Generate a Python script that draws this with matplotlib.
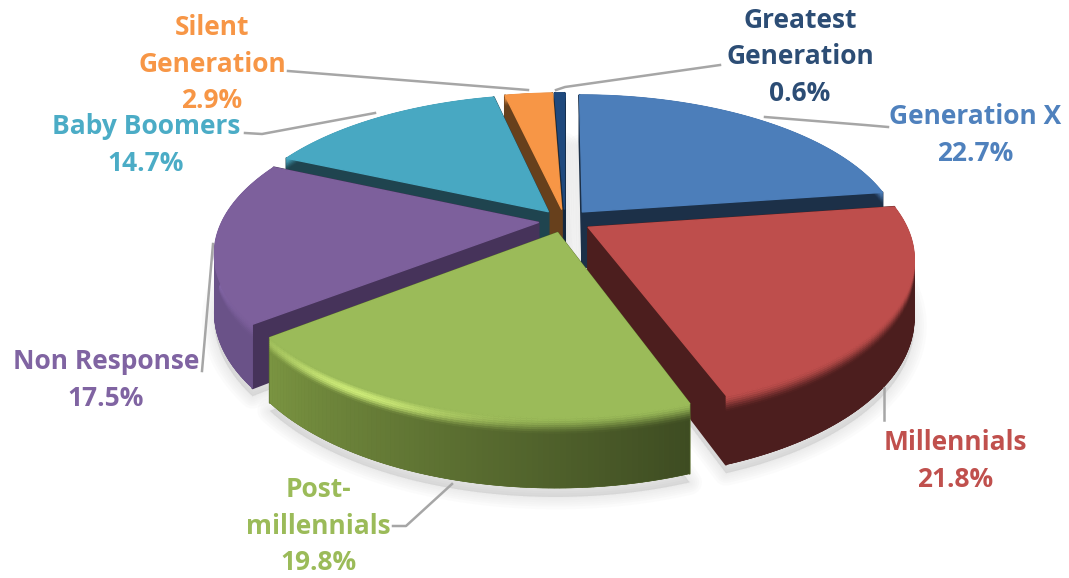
#!/usr/bin/python
# Exploded 3D style pie chart of generations, drawn from plain polygons
import numpy as np
import matplotlib
matplotlib.use('Agg')
import matplotlib.pyplot as plt
from matplotlib.collections import PolyCollection
from matplotlib.colors import to_rgb

names = ['Generation X', 'Millennials', 'Post-\nmillennials', 'Non Response',
         'Baby Boomers', 'Silent\nGeneration', 'Greatest\nGeneration']
shares = [22.7, 21.8, 19.8, 17.5, 14.7, 2.9, 0.6]

#================= colours ==================
top_colors = ['#4C7EBA', '#BE4E4C', '#9BBB59', '#7D609C', '#48A8C2', '#F79646', '#1F497D']
text_colors = ['#4F81BD', '#C0504D', '#9BBB59', '#8064A2', '#4BACC6', '#F79646', '#2C4D75']
face_colors = ['#1C3048', '#4C1E1E', '#5A6E2E', '#46335A', '#1F444F', '#67401C', '#14283F']
wall_left = ['#1C3048', '#4C1E1E', '#7A9441', '#6A5288', '#1F444F', '#67401C', '#14283F']
wall_right = ['#1C3048', '#4C1E1E', '#3E4C22', '#6A5288', '#1F444F', '#67401C', '#14283F']
rim_colors = [None, None, '#CDEB78', '#8E70B8', None, None, None]
rim_peak = [0.5, 0.5, 0.72, 0.5, 0.5, 0.5, 0.5]
draw_order = [6, 5, 0, 4, 3, 1, 2]

#================= layout ==================
cx, cy = 565.0, 221.0
rx, ry = 316.0, 143.0
persp = 0.195
explode = 0.085
depth = 56.0
bevel = 0.24

label_xy = [(975, 135), (955, 461), (318, 526), (106, 380), (146, 145), (212, 64), (800, 57)]
leaders = [[(888, 127), (865, 125), (765, 117)],
           [(884, 420), (884, 388)],
           [(393, 526), (406, 526), (452, 484)],
           [(202, 371), (213, 244)],
           [(245, 133), (262, 134), (375, 113)],
           [(288, 71), (528, 90)],
           [(720, 65), (565, 87), (556, 90)]]


def project(u, v, h=0.0):
    s = 1.0 / (1.0 + persp * v)
    return cx + rx * u * s, cy - ry * v * s + h * s


def blend(a, b, t):
    return tuple(np.array(a) * (1 - t) + np.array(b) * t)


fig = plt.figure(figsize=(10.69, 5.78), dpi=100)
ax = fig.add_axes([0, 0, 1, 1])
ax.set_xlim(0, 1069)
ax.set_ylim(578, 0)
ax.axis('off')

# slice angles, clockwise from twelve o'clock
edges = np.cumsum([0.0] + shares) / sum(shares) * 2 * np.pi
slices = []
for i in range(len(shares)):
    mid = 0.5 * (edges[i] + edges[i + 1])
    u0 = explode * np.sin(mid)
    v0 = explode * np.cos(mid)
    theta = np.linspace(edges[i], edges[i + 1], 90)
    slices.append((u0, v0, u0 + np.sin(theta), v0 + np.cos(theta)))

#====================== shadow ======================
for i in draw_order:
    u0, v0, u, v = slices[i]
    xs, ys = project(np.r_[u0, u], np.r_[v0, v], depth + 7)
    for lw in [2, 5, 8, 11, 14, 18]:
        ax.fill(xs, ys, facecolor=(0.6, 0.6, 0.6, 0.04), edgecolor=(0.6, 0.6, 0.6, 0.03),
                linewidth=lw, joinstyle='round', zorder=1)

#====================== slices ======================
z = 2
for i in draw_order:
    u0, v0, u, v = slices[i]
    top = to_rgb(top_colors[i])
    face = to_rgb(face_colors[i])

    # two flat side faces running to the apex
    for k in [0, -1]:
        ax.fill(*zip(project(u0, v0), project(u[k], v[k]), project(u[k], v[k], depth), project(u0, v0, depth)),
                color=face, linewidth=1.5, joinstyle='round', zorder=z)
    z += 1

    left = to_rgb(wall_left[i])
    right = to_rgb(wall_right[i])
    rim = rim_colors[i]

    # solid wall under the strips, stops seams showing the background
    x_a, y_a = project(u, v)
    x_b, y_b = project(u, v, depth)
    ax.fill(np.r_[x_a, x_b[::-1]], np.r_[y_a, y_b[::-1]], color=blend(left, right, 0.5), linewidth=0.5, zorder=z)
    z += 1

    # outer wall in short strips for the gradient and the bevel
    polys = []
    cols = []
    levels = np.r_[np.linspace(0, bevel, 9), 1.0]
    for a in range(len(u) - 1):
        # clockwise arcs run right to left on the near side
        f = a / (len(u) - 2.0)
        wall = blend(right, left, f)
        for b in range(len(levels) - 1):
            polys.append([project(u[a], v[a], depth * levels[b]),
                          project(u[a + 1], v[a + 1], depth * levels[b]),
                          project(u[a + 1], v[a + 1], depth * levels[b + 1]),
                          project(u[a], v[a], depth * levels[b + 1])])
            t = min(levels[b] / bevel, 1.0)
            c = blend(top, wall, t * t * (3 - 2 * t))
            if rim is not None and t < 1.0:
                glow = np.exp(-((f - rim_peak[i]) / 0.26) ** 2) * np.sin(np.pi * t ** 0.7) ** 2
                c = blend(c, to_rgb(rim), glow)
            cols.append(c)
    ax.add_collection(PolyCollection(polys, facecolors=cols, edgecolors=cols, linewidths=0.4, zorder=z))
    z += 1

    # flat top
    xs, ys = project(np.r_[u0, u], np.r_[v0, v])
    ax.fill(xs, ys, color=top, linewidth=1.0, joinstyle='round', zorder=z)
    z += 1

#====================== labels ======================
for i in range(len(shares)):
    pts = leaders[i]
    ax.plot([p[0] for p in pts], [p[1] for p in pts], color='#A6A6A6', linewidth=1.8,
            solid_joinstyle='round', zorder=z)
    ax.text(label_xy[i][0], label_xy[i][1], '%s\n%.1f%%' % (names[i], shares[i]),
            color=text_colors[i], ha='center', va='center', ma='center',
            fontsize=19, fontweight='bold', family='Open Sans', linespacing=1.47, zorder=z + 1)

fig.savefig('out.png', dpi=100)
